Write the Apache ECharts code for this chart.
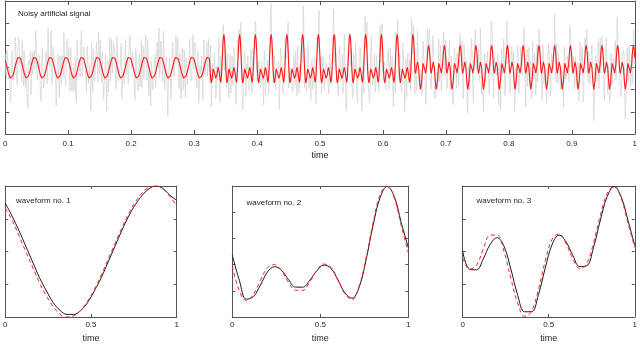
<!DOCTYPE html>
<html><head><meta charset="utf-8">
<script src="https://cdn.jsdelivr.net/npm/echarts@6/dist/echarts.min.js"></script>
<style>html,body{margin:0;padding:0;background:#fff}#c{width:640px;height:344px}</style>
</head><body><div id="c"></div>
<script>
// one period of each waveform, sampled at t = 0, 0.04, ..., 1
const wf1True = [0.37,0.27,0.16,0.04,-0.08,-0.20,-0.30,-0.39,-0.45,-0.48,-0.48,-0.45,-0.39,-0.30,-0.20,-0.08,0.04,0.16,0.27,0.36,0.43,0.48,0.50,0.48,0.43,0.39];
const wf1Est  = [0.33,0.24,0.12,0.00,-0.12,-0.24,-0.34,-0.42,-0.48,-0.50,-0.49,-0.45,-0.38,-0.29,-0.18,-0.06,0.06,0.18,0.29,0.38,0.45,0.49,0.50,0.48,0.42,0.35];
const wf2True = [0.18,-0.30,-0.66,-0.61,-0.39,-0.14,-0.04,-0.11,-0.29,-0.43,-0.43,-0.30,-0.12,-0.01,-0.07,-0.29,-0.54,-0.64,-0.44,0.09,0.75,1.28,1.49,1.30,0.80,0.32];
const wf2Est  = [-0.03,-0.50,-0.69,-0.57,-0.30,-0.06,0.00,-0.12,-0.34,-0.49,-0.49,-0.33,-0.11,0.01,-0.05,-0.29,-0.56,-0.67,-0.42,0.13,0.80,1.33,1.50,1.28,0.74,0.23];
const wf3True = [0.00,-0.27,-0.28,-0.11,0.11,0.21,0.08,-0.27,-0.67,-0.92,-0.92,-0.66,-0.25,0.11,0.25,0.15,-0.06,-0.23,-0.22,0.06,0.48,0.84,0.99,0.84,0.48,0.09];
const wf3Est  = [-0.10,-0.27,-0.21,0.04,0.25,0.25,0.00,-0.41,-0.79,-0.99,-0.91,-0.58,-0.14,0.19,0.27,0.12,-0.11,-0.26,-0.19,0.13,0.55,0.89,1.00,0.82,0.44,0.06];

// the artificial signal: which waveform is repeated, and how many periods
const segmentWaveform = [1, 2, 3];
const segmentPeriods = [13, 13, 14];
const samplesPerPeriod = 25;

// additive noise estimated from the grey trace (even samples, then odd samples)
const noiseEven = [
0.3,-0.6,0.9,-0.2,-1.1,0.5,0.1,-0.4,1.3,-0.8,0.2,0.7,-0.3,-0.9,0.4,1.0,-0.5,0.0,-1.4,0.6,0.8,-0.1,-0.7,0.3,1.2,-0.6,-0.2,0.5,-1.0,0.9,0.1,-0.3,0.6,-0.8,1.5,-0.4,0.2,-1.2,0.7,0.0,-0.5,0.4,1.1,-0.9,-0.1,0.6,-0.6,0.3,-1.3,0.8,
0.2,-0.4,1.0,-0.7,0.5,-0.2,-1.0,1.4,0.1,-0.5,0.7,-0.9,0.3,0.0,-0.6,1.2,-0.3,0.6,-1.5,0.4,0.9,-0.8,0.2,-0.1,1.1,-0.6,-0.4,0.8,-1.1,0.3,0.5,-0.2,-0.9,1.3,0.0,-0.7,0.6,0.2,-1.2,0.9,-0.3,0.4,1.6,-1.0,-0.2,0.7,-0.5,0.1,-0.8,1.0,
-0.4,0.6,0.2,-1.1,0.8,-0.3,0.5,-0.7,1.2,0.0,-0.9,0.4,-0.2,1.0,-1.3,0.3,0.7,-0.5,-0.1,0.9,-0.8,0.2,1.4,-0.6,0.1,-1.0,0.6,-0.3,0.8,-1.7,0.5,0.0,-0.4,1.1,-0.7,0.3,-0.2,0.9,-1.2,0.6,0.1,-0.6,1.3,-0.9,0.4,-0.1,0.7,-0.5,-1.1,1.0,
0.5,-0.2,-0.8,1.1,-0.4,0.3,0.9,-1.3,0.2,-0.6,0.7,0.0,-1.0,1.5,-0.3,-0.5,0.8,-0.9,0.4,0.1,-0.7,1.2,-0.2,0.6,-1.4,0.3,0.9,-0.5,0.0,-0.8,1.0,-0.1,0.5,-1.1,0.7,-0.4,0.2,1.3,-0.6,-0.3,0.8,-1.2,0.4,0.0,-0.9,1.1,-0.2,0.6,-0.7,0.3,
-0.6,1.0,0.1,-0.3,0.7,-1.2,0.4,-0.1,0.9,-0.8,0.2,1.4,-0.5,-0.2,0.6,-1.0,0.3,0.8,-1.6,0.5,0.0,-0.4,1.2,-0.7,0.2,-0.9,0.7,0.4,-1.1,0.9,-0.3,0.1,1.0,-0.6,-0.2,0.5,-1.3,0.8,0.3,-0.5,1.1,-0.8,0.0,0.6,-1.0,0.2,0.9,-0.4,-0.7,1.3,
0.1,-0.5,0.8,-1.0,0.3,0.6,-0.2,-0.9,1.2,-0.4,0.5,-1.3,0.7,0.0,-0.6,1.0,-0.1,0.4,-0.8,1.5,-0.3,-0.7,0.6,0.2,-1.2,0.9,-0.5,0.3,1.1,-0.9,0.0,-0.3,0.7,-1.4,0.5,0.2,-0.6,1.3,-0.2,-1.0,0.8,0.1,-0.4,1.0,-0.8,0.4,-0.1,0.6,-1.1,0.7,
-0.2,0.9,-0.7,0.3,1.2,-0.5,-0.1,0.6,-1.2,0.4,0.8,-0.3,-0.9,1.1,0.0,-0.6,0.5,-1.5,0.7,0.2,-0.4,1.0,-0.8,0.1,0.6,-1.1,0.3,1.4,-0.6,-0.2,0.8,-0.9,0.4,0.0,-1.3,1.2,-0.3,0.5,-0.7,0.9,0.2,-1.0,0.6,-0.4,1.1,-0.2,-0.8,0.3,0.7,-1.2,
0.6,-0.3,0.2,-1.0,1.3,-0.5,0.4,0.0,-0.8,0.9,-1.4,0.5,0.1,-0.6,1.0,-0.2,0.7,-1.1,0.3,-0.4,1.2,-0.7,0.0,0.8,-0.9,0.4,-0.2,1.5,-1.2,0.3,0.6,-0.5,-0.1,0.9,-1.0,0.2,1.1,-0.8,0.5,-0.3,-0.6,1.0,0.1,-1.3,0.7,-0.1,0.4,-0.9,1.2,-0.4,
0.3,-0.8,0.7,0.1,-1.2,0.9,-0.4,0.5,-0.2,1.1,-0.9,0.0,0.6,-1.5,0.8,-0.3,0.2,1.3,-0.7,-0.1,0.5,-1.0,0.9,-0.5,0.3,1.0,-1.3,0.4,-0.2,0.7,-0.6,1.2,0.0,-0.9,0.5,-0.4,1.4,-1.1,0.2,0.6,-0.7,0.1,0.9,-1.2,0.4,-0.3,0.8,-0.5,1.0,-0.8,
-0.1,0.7,-1.0,0.4,0.2,-0.6,1.3,-0.3,0.5,-1.1,0.8,0.0,-0.5,1.0,-0.8,0.3,0.6,-1.4,0.9,-0.2,0.1,-0.7,1.2,-0.4,0.5,-0.9,0.2,1.1,-1.2,0.6,-0.3,0.8,-0.6,0.0,1.4,-1.0,0.3,-0.1,0.7,-0.8,0.4,1.0,-1.3,0.2,-0.4,0.9,-0.6,0.5,-1.1,0.3
];
const noiseOdd = [
-0.5,0.8,-0.1,0.4,-0.9,1.2,-0.3,0.0,0.6,-1.2,0.9,-0.4,0.2,1.1,-0.7,-0.2,0.5,-1.0,0.7,0.3,-1.3,0.4,0.1,-0.6,1.0,-0.8,0.6,-0.1,-1.1,1.4,-0.5,0.3,0.8,-0.7,0.0,-0.4,1.2,-0.9,0.5,0.2,-1.4,0.7,-0.3,0.9,-0.6,0.1,1.3,-1.0,0.4,-0.2,
0.7,-1.1,0.3,0.0,-0.6,0.9,-1.3,0.5,0.2,-0.8,1.2,-0.4,0.6,-0.1,-1.0,0.8,0.1,-0.5,1.5,-0.9,0.3,-0.3,0.7,-1.2,0.4,1.0,-0.7,0.0,-0.4,1.1,-1.5,0.6,0.2,-0.8,0.9,-0.2,0.4,-1.1,1.3,-0.5,0.0,0.7,-0.9,0.3,-0.6,1.2,-0.1,-1.2,0.8,0.2,
-0.3,0.5,-0.8,1.3,-0.2,-0.6,0.9,0.1,-1.1,0.6,-0.4,1.0,-0.9,0.3,0.2,-1.4,0.8,-0.1,0.5,-0.7,1.1,-0.3,-0.9,0.7,0.0,1.4,-1.0,0.4,-0.5,0.2,0.9,-1.2,0.6,-0.2,-0.7,1.0,0.3,-0.8,0.5,-1.3,1.2,-0.4,0.1,0.8,-0.6,-0.1,1.0,-0.9,0.4,-0.5,
0.9,-0.3,0.4,-1.2,0.6,0.0,-0.7,1.3,-0.5,0.2,-0.9,0.8,0.3,-1.1,0.5,-0.2,1.0,-0.6,-0.3,1.4,-1.0,0.1,0.6,-0.8,0.3,-0.4,1.2,-1.3,0.7,0.0,-0.5,0.9,-0.1,-1.0,1.1,0.4,-0.7,0.2,-1.2,0.8,-0.3,0.5,1.0,-0.9,0.1,-0.6,1.3,-0.2,0.6,-1.0,
0.2,0.7,-0.9,0.4,-0.3,1.1,-1.2,0.0,0.6,-0.5,0.9,-1.0,0.3,1.2,-0.7,-0.1,0.5,-1.4,1.0,0.2,-0.6,0.8,-0.2,-1.1,1.3,-0.4,0.6,0.1,-0.8,0.4,1.1,-1.3,0.0,0.7,-0.5,-0.2,1.5,-0.9,0.3,-0.7,0.8,0.1,-1.0,0.5,-0.3,1.0,-1.2,0.6,0.0,-0.4,
1.0,-0.6,0.2,-0.9,0.7,0.3,-1.2,0.9,-0.1,-0.5,1.3,-0.8,0.4,0.0,-1.0,0.6,-0.3,1.1,-0.7,0.2,-1.4,0.8,0.5,-0.4,0.1,-0.9,1.2,-0.2,0.6,-1.1,0.3,0.9,-0.6,0.0,-1.3,1.0,-0.4,0.7,-0.1,-0.8,1.4,-0.5,0.2,-1.0,0.6,0.3,-0.7,1.1,-0.3,-0.9,
0.4,-0.1,-1.0,0.8,-0.5,1.2,0.0,-0.7,0.6,-1.3,0.3,0.9,-0.4,0.1,-0.8,1.1,-0.2,0.5,-1.2,0.7,0.2,-0.6,1.4,-0.9,0.0,0.4,-1.1,0.8,-0.3,0.6,-0.7,1.0,0.1,-1.4,0.5,-0.2,0.9,-0.6,0.3,1.2,-1.0,0.0,0.7,-0.4,-0.9,1.1,-0.1,0.5,-1.2,0.8,
-0.7,0.3,1.0,-0.5,0.1,-1.1,0.7,-0.2,0.9,-0.8,0.4,-0.3,1.3,-1.2,0.5,0.0,-0.6,1.0,-0.9,0.2,0.6,-1.4,0.8,-0.1,-0.4,1.1,-0.7,0.3,0.0,-1.0,1.2,-0.5,0.6,-0.2,-0.8,0.9,0.2,-1.3,0.7,-0.3,0.4,-0.9,1.1,0.0,-0.6,1.4,-1.1,0.3,-0.2,0.6,
-0.9,0.5,0.0,1.1,-0.6,-0.2,0.8,-1.3,0.4,0.2,-0.7,1.0,-0.4,0.6,-1.1,0.9,-0.1,-0.5,1.3,-0.8,0.3,0.0,-1.2,0.7,0.5,-0.3,1.0,-1.0,0.2,-0.6,0.8,0.4,-1.4,0.9,-0.2,0.1,-0.7,1.2,-0.5,0.3,-1.0,0.6,0.0,1.1,-0.8,-0.3,0.7,-1.2,0.4,0.1,
0.6,-1.0,0.2,-0.4,1.2,-0.7,0.0,0.8,-1.3,0.5,-0.1,0.9,-0.6,0.3,-1.1,1.0,0.2,-0.5,0.7,-0.9,1.3,-0.2,-0.8,0.4,0.1,-1.2,0.9,-0.3,0.5,-0.6,1.1,-1.0,0.3,0.0,-0.7,1.4,-0.4,0.6,-1.1,0.2,0.8,-0.5,-0.2,1.0,-0.9,0.4,0.1,-1.3,0.7,-0.3
];

const panelTitles = ['Noisy artificial signal', 'waveform no. 1', 'waveform no. 2', 'waveform no. 3'];
const topYRange = [-3, 3, 1];
const panelYRanges = [[-0.5, 0.5, 0.25], [-1, 1.5, 0.5], [-1, 1, 0.5]];

// ---- build series data ----
const estById = {1: wf1Est, 2: wf2Est, 3: wf3Est};
const signal = [];
segmentWaveform.forEach((w, s) => {
  for (let p = 0; p < segmentPeriods[s]; p++)
    for (let k = 0; k < samplesPerPeriod; k++) signal.push(estById[w][k]);
});
const N = signal.length;
const tSig = i => i / (N - 1);
const redData = signal.map((v, i) => [tSig(i), v]);
const grayData = signal.map((v, i) => [tSig(i), v + (i % 2 ? noiseOdd[(i - 1) / 2] : noiseEven[i / 2])]);
const wfT = wf1True.map((_, k) => k / (wf1True.length - 1));
const pair = arr => arr.map((v, k) => [wfT[k], v]);

const AX = '#555', TXT = '#262626', FONT = 'Liberation Sans, Arial, sans-serif';
const grids = [
  {left: 2, top: 1, width: 635.5, height: 133},
  {left: 2, top: 186, width: 174.7, height: 133.3},
  {left: 232.3, top: 186, width: 176, height: 132.3},
  {left: 462.7, top: 186, width: 175.6, height: 132.7}
];
function xAx(g, interval, pos, tick) {
  const main = pos === 'bottom';
  return {type: 'value', gridIndex: g, min: 0, max: 1, interval, position: pos,
    axisLine: {show: true, onZero: false, lineStyle: {color: AX, width: 1}},
    axisTick: {show: true, inside: true, length: tick, lineStyle: {color: AX}},
    axisLabel: {show: main, margin: g ? 4 : 6, color: TXT, fontSize: 8, fontFamily: FONT,
      formatter: v => String(+v.toFixed(2))},
    splitLine: {show: false},
    name: main ? 'time' : '', nameLocation: 'middle', nameGap: 17,
    nameTextStyle: {color: TXT, fontSize: 9, fontFamily: FONT}};
}
function yAx(g, r, pos, tick) {
  return {type: 'value', gridIndex: g, min: r[0], max: r[1], interval: r[2], position: pos,
    axisLine: {show: true, onZero: false, lineStyle: {color: AX, width: 1}},
    axisTick: {show: true, inside: true, length: tick, lineStyle: {color: AX}},
    axisLabel: {show: false}, splitLine: {show: false}};
}
const yr = [topYRange].concat(panelYRanges);
const xAxes = [], yAxes = [];
[0.1, 0.5, 0.5, 0.5].forEach((iv, g) => xAxes.push(xAx(g, iv, 'bottom', g ? 3 : 4)));
[0.1, 0.5, 0.5, 0.5].forEach((iv, g) => xAxes.push(xAx(g, iv, 'top', g ? 3 : 4)));
yr.forEach((r, g) => yAxes.push(yAx(g, r, 'left', g ? 3 : 4)));
yr.forEach((r, g) => yAxes.push(yAx(g, r, 'right', g ? 3 : 4)));

const titlePos = [[18, 9.5], [16, 197], [246.5, 199], [476.5, 197]];
const titles = panelTitles.map((t, i) => ({text: t, left: titlePos[i][0], top: titlePos[i][1], padding: 0,
  textStyle: {fontSize: 8, fontWeight: 'normal', color: TXT, fontFamily: FONT}}));

const lineBase = {type: 'line', showSymbol: false, symbol: 'none', animation: false, silent: true};
const series = [
  Object.assign({}, lineBase, {xAxisIndex: 0, yAxisIndex: 0, data: grayData, lineStyle: {color: '#d2d2d2', width: 0.7}}),
  Object.assign({}, lineBase, {xAxisIndex: 0, yAxisIndex: 0, data: redData, lineStyle: {color: '#ff1a1a', width: 1.1}}),
];
[[wf1True, wf1Est], [wf2True, wf2Est], [wf3True, wf3Est]].forEach((pr, i) => {
  series.push(Object.assign({}, lineBase, {xAxisIndex: i + 1, yAxisIndex: i + 1, smooth: 0.4, data: pair(pr[0]),
    lineStyle: {color: '#1a1a1a', width: 1}}));
  series.push(Object.assign({}, lineBase, {xAxisIndex: i + 1, yAxisIndex: i + 1, smooth: 0.4, data: pair(pr[1]),
    lineStyle: {color: '#ff2020', width: 1, type: [4, 3]}}));
});

const chart = echarts.init(document.getElementById('c'), null, {renderer: 'canvas'});
chart.setOption({animation: false, backgroundColor: '#fff', title: titles, grid: grids,
  xAxis: xAxes, yAxis: yAxes, series});
</script></body></html>
